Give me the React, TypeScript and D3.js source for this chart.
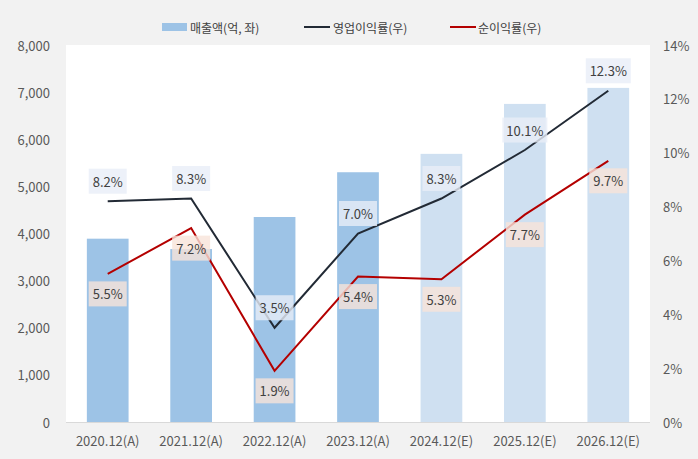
import React from "react";
import * as d3 from "d3";

const categories = ["2020.12(A)", "2021.12(A)", "2022.12(A)", "2023.12(A)", "2024.12(E)", "2025.12(E)", "2026.12(E)"];
const estimated = [false, false, false, false, true, true, true];
const revenue = [3890, 3670, 4350, 5300, 5690, 6750, 7090];
const opMargin = [8.2, 8.3, 3.5, 7.0, 8.3, 10.1, 12.3];
const netMargin = [5.5, 7.2, 1.9, 5.4, 5.3, 7.7, 9.7];
const leftTicks = [0, 1000, 2000, 3000, 4000, 5000, 6000, 7000, 8000];
const rightTicks = [0, 2, 4, 6, 8, 10, 12, 14];
const legendLabels = ["매출액(억, 좌)", "영업이익률(우)", "순이익률(우)"];

const W = 698, H = 459;
const M = { left: 66, right: 650, top: 45, bottom: 422 };
const FONT = "'Noto Sans CJK KR', 'Noto Sans', sans-serif";

export default function App() {
  const x = d3.scaleBand<string>().domain(categories).range([M.left, M.right]).paddingInner(0.5).paddingOuter(0.25);
  const yL = d3.scaleLinear().domain([0, 8000]).range([M.bottom, M.top]);
  const yR = d3.scaleLinear().domain([0, 14]).range([M.bottom, M.top]);
  const cx = (i: number) => (x(categories[i]) as number) + x.bandwidth() / 2;
  const line = d3.line<number>().x((_, i) => cx(i)).y((d) => yR(d));
  const fmt = d3.format(",");

  return (
    <svg width={W} height={H} style={{ position: "absolute", left: 0, top: 0, fontFamily: FONT }}>
      <rect x={0} y={0} width={W} height={H} fill="#f2f2f2" />
      <rect x={M.left} y={M.top} width={M.right - M.left} height={M.bottom - M.top} fill="#ffffff" />
      {revenue.map((v, i) => (
        <rect key={i} x={x(categories[i])} y={yL(v)} width={x.bandwidth()} height={yL(0) - yL(v)}
          fill={estimated[i] ? "#cfe0f1" : "#9dc3e6"} />
      ))}
      <line x1={M.left} x2={M.right} y1={M.bottom + 0.5} y2={M.bottom + 0.5} stroke="#d9d9d9" />
      <path d={line(opMargin) || ""} fill="none" stroke="#222a35" strokeWidth={2} />
      <path d={line(netMargin) || ""} fill="none" stroke="#b40000" strokeWidth={2} />
      {opMargin.map((v, i) => {
        const w = v >= 10 ? 45 : 38;
        return (
          <g key={"o" + i}>
            <rect x={cx(i) - w / 2} y={yR(v) - 20 - 12.5} width={w} height={25} fill="#e9eef8" opacity={0.8} />
            <text x={cx(i)} y={yR(v) - 20} textAnchor="middle" dominantBaseline="central" fontSize={13} fill="#404040">{v.toFixed(1)}%</text>
          </g>
        );
      })}
      {netMargin.map((v, i) => (
        <g key={"n" + i}>
          <rect x={cx(i) - 19} y={yR(v) + 20 - 12.5} width={38} height={25} fill="#f8e4da" opacity={0.8} />
          <text x={cx(i)} y={yR(v) + 20} textAnchor="middle" dominantBaseline="central" fontSize={13} fill="#404040">{v.toFixed(1)}%</text>
        </g>
      ))}
      {leftTicks.map((t) => (
        <text key={"l" + t} x={50} y={yL(t)} textAnchor="end" dominantBaseline="central" fontSize={13} fill="#595959">{fmt(t)}</text>
      ))}
      {rightTicks.map((t) => (
        <text key={"r" + t} x={663} y={yR(t)} textAnchor="start" dominantBaseline="central" fontSize={13} fill="#595959">{t}%</text>
      ))}
      {categories.map((c, i) => (
        <text key={c} x={cx(i)} y={440} textAnchor="middle" dominantBaseline="central" fontSize={13} fill="#595959">{c}</text>
      ))}
      <g fontSize={12} fill="#404040">
        <rect x={162} y={23} width={25} height={8} fill="#9dc3e6" />
        <text x={190} y={27} dominantBaseline="central">{legendLabels[0]}</text>
        <line x1={304} x2={330} y1={27} y2={27} stroke="#222a35" strokeWidth={2} />
        <text x={333} y={27} dominantBaseline="central">{legendLabels[1]}</text>
        <line x1={450} x2={476} y1={27} y2={27} stroke="#b40000" strokeWidth={2} />
        <text x={478} y={27} dominantBaseline="central">{legendLabels[2]}</text>
      </g>
    </svg>
  );
}
